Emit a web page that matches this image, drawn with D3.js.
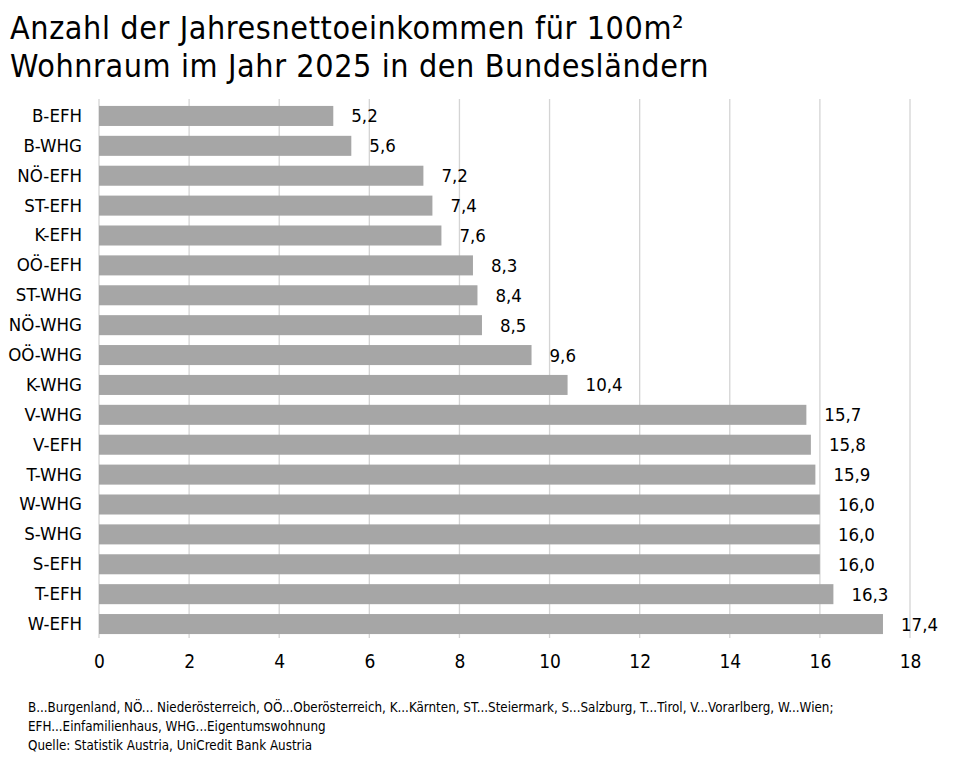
<!DOCTYPE html>
<html>
<head>
<meta charset="utf-8">
<script src="https://cdn.jsdelivr.net/npm/d3@7"></script>
<style>
  body { margin: 0; background: #fff; }
  svg text { font-family: "DejaVu Sans Condensed", "DejaVu Sans", sans-serif; fill: #000; }
</style>
</head>
<body>
<div id="chart"></div>
<script>
// categories, top to bottom
const categories = ["B-EFH", "B-WHG", "NÖ-EFH", "ST-EFH", "K-EFH", "OÖ-EFH", "ST-WHG", "NÖ-WHG",
  "OÖ-WHG", "K-WHG", "V-WHG", "V-EFH", "T-WHG", "W-WHG", "S-WHG", "S-EFH", "T-EFH", "W-EFH"];
const values = [5.2, 5.6, 7.2, 7.4, 7.6, 8.3, 8.4, 8.5, 9.6, 10.4, 15.7, 15.8, 15.9, 16.0, 16.0, 16.0, 16.3, 17.4];
const xTicks = [0, 2, 4, 6, 8, 10, 12, 14, 16, 18];
const titleLines = ["Anzahl der Jahresnettoeinkommen für 100m²", "Wohnraum im Jahr 2025 in den Bundesländern"];
const noteLines = [
  "B...Burgenland, NÖ... Niederösterreich, OÖ...Oberösterreich, K...Kärnten, ST...Steiermark, S...Salzburg, T...Tirol, V...Vorarlberg, W...Wien;",
  "EFH...Einfamilienhaus, WHG...Eigentumswohnung",
  "Quelle: Statistik Austria, UniCredit Bank Austria"
];

const width = 960, height = 766;
const margin = {left: 99, right: 50, top: 101, bottom: 127};

let svg = d3.select("#chart").append("svg")
  .attr("width", width).attr("height", height);

let x = d3.scaleLinear().domain([0, 18]).range([margin.left, width - margin.right]);
let y = d3.scaleBand().domain(categories)
  .range([margin.top, height - margin.bottom])
  .paddingInner(0.33).paddingOuter(0.165);

let fmt = v => d3.format(".1f")(v).replace(".", ",");

// title
svg.append("g").selectAll("text")
  .data(titleLines).enter().append("text")
  .attr("x", 10).attr("y", (d, i) => 39 + i * 38)
  .attr("font-size", 32)
  .attr("letter-spacing", 0.6)
  .text(d => d);

// gridlines
svg.append("g").selectAll("line")
  .data(xTicks).enter().append("line")
  .attr("x1", d => x(d)).attr("x2", d => x(d))
  .attr("y1", margin.top - 2).attr("y2", height - margin.bottom - 1)
  .attr("stroke", "#d4d4d4").attr("stroke-width", 1.3);

// bars
svg.append("g").selectAll("rect")
  .data(values).enter().append("rect")
  .attr("x", x(0))
  .attr("y", (d, i) => y(categories[i]))
  .attr("width", d => x(d) - x(0))
  .attr("height", y.bandwidth())
  .attr("fill", "#a6a6a6");

// value labels
svg.append("g").selectAll("text")
  .data(values).enter().append("text")
  .attr("x", d => x(d) + 18)
  .attr("y", (d, i) => y(categories[i]) + y.bandwidth() / 2)
  .attr("dy", "0.35em")
  .attr("font-size", 18.5)
  .text(d => fmt(d));

// category axis
let yAxis = svg.append("g")
  .attr("transform", `translate(${margin.left - 17},0)`)
  .call(d3.axisLeft(y).tickSize(0).tickPadding(0));
yAxis.select(".domain").remove();
yAxis.selectAll("text").attr("font-size", 18.5).attr("font-family", null);

// value axis
let xAxis = svg.append("g")
  .attr("transform", `translate(0,${height - margin.bottom})`)
  .call(d3.axisBottom(x).tickValues(xTicks).tickSize(0).tickPadding(16).tickFormat(d3.format("d")));
xAxis.select(".domain").remove();
xAxis.selectAll("text").attr("font-size", 19).attr("font-family", null);

// footnote
svg.append("g").selectAll("text")
  .data(noteLines).enter().append("text")
  .attr("x", 28).attr("y", (d, i) => 712 + i * 19)
  .attr("font-size", 13.3)
  .attr("fill", "#222")
  .text(d => d);
</script>
</body>
</html>
